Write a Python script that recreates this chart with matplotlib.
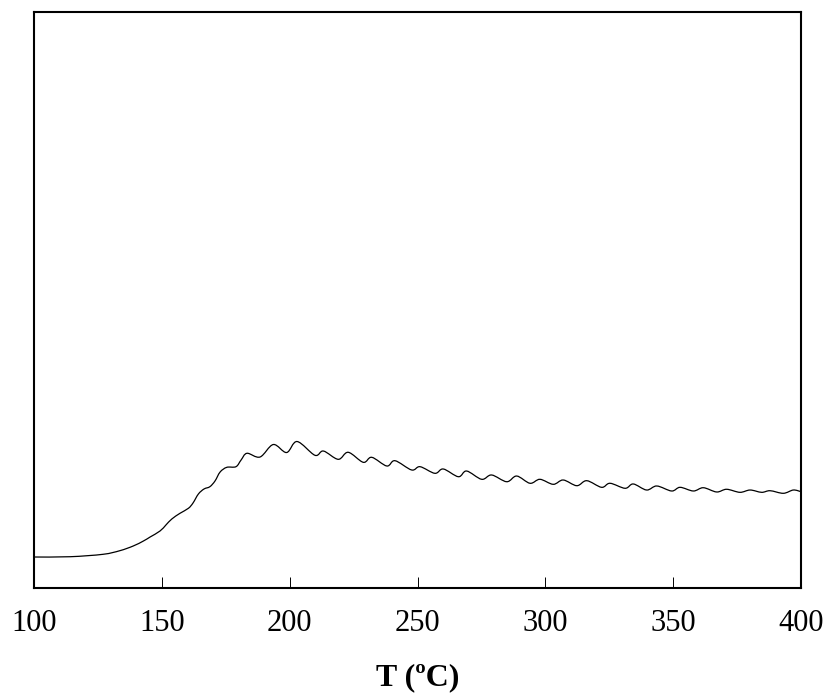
import matplotlib
matplotlib.use("Agg")
import matplotlib.pyplot as plt
import numpy as np
from matplotlib.path import Path
from matplotlib.patches import PathPatch

# Temperature (degC) and signal (arbitrary units) of the measured trace
temperature = [100.0, 114.1, 127.0, 133.6, 138.8, 142.8, 145.4, 149.3, 151.6, 153.9,
               157.1, 160.4, 162.2, 164.3, 166.5, 168.8, 170.8, 172.8, 175.4, 179.0,
               181.0, 183.3, 188.4, 193.6, 198.8, 202.9, 209.9, 213.2, 219.0, 222.9,
               228.8, 232.1, 238.0, 241.2, 247.7, 251.0, 256.8, 260.1, 266.0, 269.2,
               275.1, 279.0, 284.9, 288.8, 294.0, 297.9, 303.1, 307.0, 312.3, 316.2,
               322.0, 325.3, 331.2, 334.4, 339.6, 343.6, 349.4, 352.7, 357.9, 361.8,
               367.0, 370.9, 376.1, 380.1, 384.6, 387.9, 393.1, 397.0, 400.0]
signal = [0.538, 0.543, 0.585, 0.648, 0.729, 0.816, 0.885, 0.990, 1.094, 1.198,
          1.297, 1.384, 1.476, 1.632, 1.719, 1.759, 1.858, 2.014, 2.095, 2.106,
          2.222, 2.339, 2.274, 2.491, 2.352, 2.543, 2.304, 2.378, 2.234, 2.356,
          2.182, 2.269, 2.118, 2.210, 2.049, 2.106, 1.991, 2.066, 1.932, 2.031,
          1.887, 1.962, 1.845, 1.944, 1.818, 1.887, 1.800, 1.875, 1.776, 1.863,
          1.748, 1.818, 1.731, 1.806, 1.701, 1.771, 1.684, 1.748, 1.684, 1.741,
          1.667, 1.714, 1.661, 1.701, 1.661, 1.689, 1.644, 1.701, 1.672]

x_ticks = [100, 150, 200, 250, 300, 350, 400]
x_label = "T (ºC)"

plt.rcParams["font.family"] = ["Liberation Serif", "DejaVu Serif"]

fig = plt.figure(figsize=(8.30, 6.95), dpi=100)
ax = fig.add_axes([34 / 830, 107 / 695, 767 / 830, 576 / 695])


def smooth_path(xs, ys):
    """Catmull-Rom curve through the points, expressed as cubic Bezier segments."""
    pts = np.column_stack([xs, ys]).astype(float)
    n = len(pts)
    verts = [pts[0]]
    codes = [Path.MOVETO]
    for i in range(n - 1):
        p0 = pts[i - 1] if i > 0 else pts[i]
        p1 = pts[i]
        p2 = pts[i + 1]
        p3 = pts[i + 2] if i + 2 < n else pts[i + 1]
        c1 = p1 + (p2 - p0) / 6.0
        c2 = p2 - (p3 - p1) / 6.0
        verts.extend([c1, c2, p2])
        codes.extend([Path.CURVE4] * 3)
    return Path(verts, codes)


ax.add_patch(PathPatch(smooth_path(temperature, signal), facecolor="none",
                       edgecolor="black", linewidth=0.9))

ax.set_xlim(100, 400)
ax.set_ylim(0, 10)
ax.set_xticks(x_ticks)
ax.set_xticklabels([str(t) for t in x_ticks])
ax.set_yticks([])

for s in ax.spines.values():
    s.set_linewidth(1.5)
ax.tick_params(axis="x", direction="in", length=8, width=0.7, pad=15,
               labelsize=22)
ax.set_xlabel(x_label, fontsize=23, fontweight="bold", labelpad=18)

fig.savefig("out.png", dpi=100)
